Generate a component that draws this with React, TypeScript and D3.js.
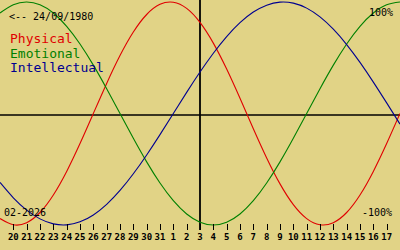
import React, { useEffect } from "react";
import * as d3 from "d3";

// Day offsets relative to "today" (03 Feb 2026), one sample per day
const dayOffsets = [-15, -14, -13, -12, -11, -10, -9, -8, -7, -6, -5, -4, -3, -2, -1, 0, 1, 2, 3, 4, 5, 6, 7, 8, 9, 10, 11, 12, 13, 14, 15];

const physical = [-0.9423, -0.9977, -0.9791, -0.8879, -0.7308, -0.5196, -0.2698, 0, 0.2698, 0.5196, 0.7308, 0.8879, 0.9791, 0.9977, 0.9423, 0.817, 0.6311, 0.3984, 0.1362, -0.1362, -0.3984, -0.6311, -0.817, -0.9423, -0.9977, -0.9791, -0.8879, -0.7308, -0.5196, -0.2698, 0];
const emotional = [0.901, 0.9749, 1, 0.9749, 0.901, 0.7818, 0.6235, 0.4339, 0.2225, 0, -0.2225, -0.4339, -0.6235, -0.7818, -0.901, -0.9749, -1, -0.9749, -0.901, -0.7818, -0.6235, -0.4339, -0.2225, 0, 0.2225, 0.4339, 0.6235, 0.7818, 0.901, 0.9749, 1];
const intellectual = [-0.6182, -0.7557, -0.866, -0.945, -0.9898, -0.9989, -0.9718, -0.9096, -0.8146, -0.6901, -0.5406, -0.3717, -0.1893, 0, 0.1893, 0.3717, 0.5406, 0.6901, 0.8146, 0.9096, 0.9718, 0.9989, 0.9898, 0.945, 0.866, 0.7557, 0.6182, 0.4582, 0.2817, 0.0951, -0.0951];

// Tick labels: 20 Jan .. 17 Feb, offsets -14 .. 14
const tickLabels = ["20", "21", "22", "23", "24", "25", "26", "27", "28", "29", "30", "31", "1", "2", "3", "4", "5", "6", "7", "8", "9", "10", "11", "12", "13", "14", "15", "16", "17"];
const tickOffsets = [-14, -13, -12, -11, -10, -9, -8, -7, -6, -5, -4, -3, -2, -1, 0, 1, 2, 3, 4, 5, 6, 7, 8, 9, 10, 11, 12, 13, 14];

const seriesNames = ["Physical", "Emotional", "Intellectual"];
const seriesColors = ["#e00000", "#008000", "#000090"];
const birthLabel = "<-- 24/09/1980";
const monthLabel = "02-2026";
const topLabel = "100%";
const bottomLabel = "-100%";

const W = 400;
const H = 250;
const BG = "#e1d386";
const MONO = "'DejaVu Sans Mono', 'Liberation Mono', monospace";

export default function App() {
  useEffect(() => {
    document.body.style.margin = "0";
  }, []);

  const x = d3.scaleLinear().domain([-15, 15]).range([0, W]);
  const y = d3.scaleLinear().domain([-1, 1]).range([225, 2]);
  const axisY = 115;

  const line = d3
    .line<number>()
    .x((_, i) => x(dayOffsets[i]))
    .y((v) => y(v))
    .curve(d3.curveNatural);

  const allSeries = [physical, emotional, intellectual];

  return (
    <svg
      width={W}
      height={H}
      style={{ position: "absolute", left: 0, top: 0, display: "block" }}
    >
      <rect x={0} y={0} width={W} height={H} fill={BG} />

      {/* horizontal zero axis */}
      <line x1={0} x2={W} y1={axisY} y2={axisY} stroke="#000" strokeWidth={1.5} />
      {/* today vertical line */}
      <line x1={x(0)} x2={x(0)} y1={0} y2={230} stroke="#000" strokeWidth={1.8} />

      {/* curves */}
      {allSeries.map((s, i) => (
        <path key={i} d={line(s) || ""} fill="none" stroke={seriesColors[i]} strokeWidth={1.1} />
      ))}

      {/* ticks */}
      {tickOffsets.map((d, i) => (
        <g key={i}>
          <line
            x1={Math.round(x(d)) + 0.5}
            x2={Math.round(x(d)) + 0.5}
            y1={224}
            y2={230}
            stroke="#000"
            strokeWidth={1}
          />
          <text
            x={x(d)}
            y={240}
            textAnchor="middle"
            fontFamily={MONO}
            fontSize={9}
            fontWeight="bold"
            fill="#000"
          >
            {tickLabels[i]}
          </text>
        </g>
      ))}

      {/* labels */}
      <text x={9} y={20} fontFamily={MONO} fontSize={10} fill="#000">
        {birthLabel}
      </text>
      {seriesNames.map((n, i) => (
        <text key={n} x={10} y={43 + i * 14.5} fontFamily={MONO} fontSize={13} fill={seriesColors[i]}>
          {n}
        </text>
      ))}
      <text x={393} y={16} textAnchor="end" fontFamily={MONO} fontSize={10} fill="#000">
        {topLabel}
      </text>
      <text x={392} y={216} textAnchor="end" fontFamily={MONO} fontSize={10} fill="#000">
        {bottomLabel}
      </text>
      <text x={4} y={216} fontFamily={MONO} fontSize={10} fill="#000">
        {monthLabel}
      </text>
    </svg>
  );
}
